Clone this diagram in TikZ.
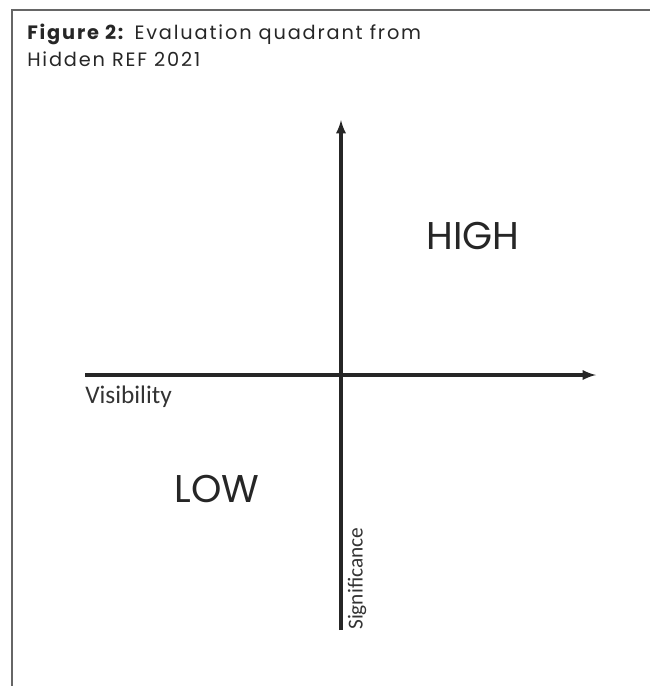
\documentclass[tikz,border=0pt]{standalone}
\usepackage{fontspec}
\setmainfont{Poppins}
\newfontfamily\titlefont{Poppins}[LetterSpace=9.5]
\newfontfamily\axisfont{Carlito}
\newfontfamily\levelfont{Poppins}
\usetikzlibrary{positioning}

\tikzset{
  axis/.style={->,>=latex,line width=2.4pt,color=black!85},
  level/.style={font=\levelfont\fontsize{29pt}{32pt}\selectfont,text=black!85,inner sep=0pt},
  axislabel/.style={font=\axisfont\fontsize{19pt}{21pt}\selectfont,text=black!80,inner sep=0pt}
}

\begin{document}
\begin{tikzpicture}[x=0.75pt,y=-0.75pt]
			\useasboundingbox (0,0) rectangle (650,686);
			% frame, open at the bottom and right
			\draw[line width=1.6pt,color=black!60] (12,686) -- (12,10) -- (650,10);
			\node[anchor=north west,inner sep=0pt,align=left,font=\titlefont\fontsize{14.5pt}{21.7pt}\selectfont,text=black!85] (title) at (27,24)
				{\textbf{Figure 2:} Evaluation quadrant from\\[-2pt]Hidden REF 2021};
			
			\coordinate (O) at (341,375);
			\coordinate (left) at (85,375);
			\coordinate (right) at (596,375);
			\coordinate (bottom) at (341,630);
			\coordinate (top) at (341,120);
			
			\draw[axis] (left) -- (right);
			\draw[axis] (bottom) -- (top);
			
			\node[axislabel,anchor=north west] (vis) at ([yshift=-8]left) {Visibility};
			\node[axislabel,font=\axisfont\fontsize{16pt}{18pt}\selectfont,rotate=90,anchor=north west] (sig) at ([xshift=5]bottom) {Significance};
			
			\node[level] (high) at (473,236) {HIGH};
			\node[level] (low) at (217,489) {LOW};
\end{tikzpicture}
\end{document}
